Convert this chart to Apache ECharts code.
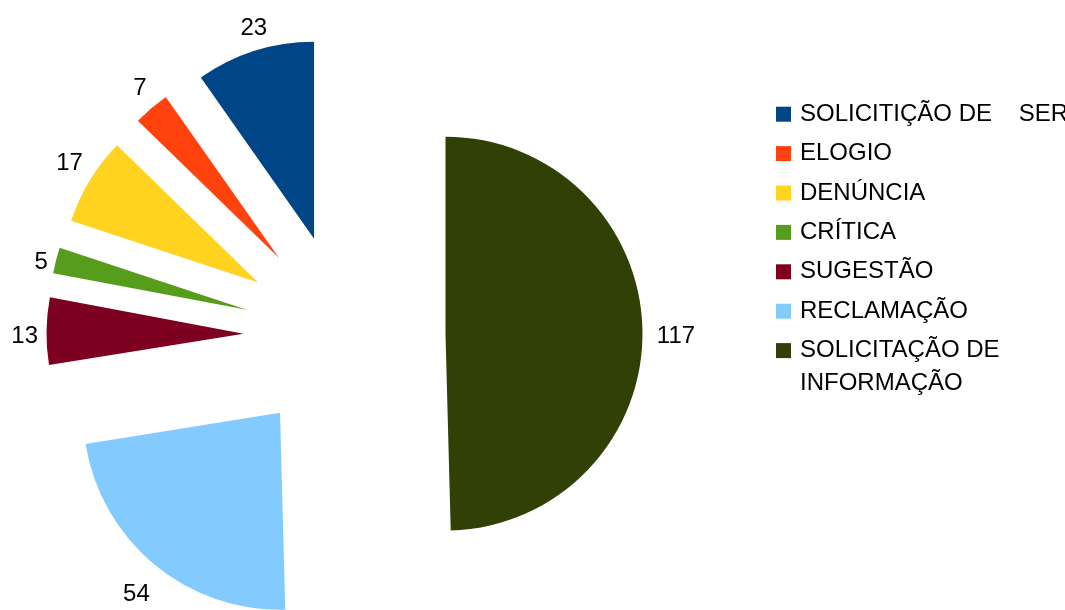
<html>
	<head>
		<meta charset="utf-8">
		<script src="https://cdn.jsdelivr.net/npm/echarts@6/dist/echarts.min.js"></script>
	</head>
<body style="margin:0;background:#fff;">
	<div id="main" style="width: 1065px;height:610px;"></div>
	<script type="text/javascript">
		// dados
		var categorias = ['SOLICITIÇÃO DE    SERVIÇO', 'ELOGIO', 'DENÚNCIA', 'CRÍTICA', 'SUGESTÃO', 'RECLAMAÇÃO', 'SOLICITAÇÃO DE INFORMAÇÃO'];
		var valores = [23, 7, 17, 5, 13, 54, 117];
		var cores = ['#004586', '#ff420e', '#ffd320', '#579d1c', '#7e0021', '#83caff', '#314004'];

		var myChart = echarts.init(document.getElementById('main'));

		var fonte = 'Liberation Sans, Arial, sans-serif';
		var raio = 197;       // raio das fatias
		var anelMeio = 225;   // raio medio do anel invisivel dos rotulos
		var ancora = 205;     // distancia da ponta da fatia ate o ponto de ancora do rotulo
		var ajusteX = 2.5;    // correcoes do texto
		var ajusteY = 5;

		var total = valores.reduce(function (a, b) { return a + b; }, 0);

		// alinhamento do rotulo em torno da ancora, por faixa de angulo (como no LibreOffice)
		function alinhamento(graus) {
			if (graus === 0) return [0, 0];
			if (graus <= 22.5) return [1, 0];
			if (graus < 67.5) return [1, -1];
			if (graus < 112.5) return [0, -1];
			if (graus <= 157.5) return [-1, -1];
			if (graus <= 202.5) return [-1, 0];
			if (graus < 247.5) return [-1, 1];
			if (graus < 292.5) return [0, 1];
			if (graus < 337.5) return [1, 1];
			return [1, 0];
		}

		var acum = 0;
		var paddings = valores.map(function (v) {
			var graus = (90 + 360 * (acum + v / 2) / total) % 360;
			acum += v;
			var meio = graus * Math.PI / 180;
			var c = Math.cos(meio), s = Math.sin(meio);
			var w = String(v).length * 13.34, h = 33;
			var al = alinhamento(graus);
			var d = ancora - anelMeio;
			var ox = d * c + al[0] * w / 2 + ajusteX;
			var oy = -d * s + al[1] * h / 2 + ajusteY;
			return [Math.max(0, 2 * oy), Math.max(0, -2 * ox), Math.max(0, -2 * oy), Math.max(0, 2 * ox)];
		});

		var option = {
			animation: false,
			backgroundColor: '#fff',
			color: cores,
			legend: {
				orient: 'vertical',
				left: 776,
				top: 99.2,
				padding: 0,
				itemWidth: 15,
				itemHeight: 15,
				itemGap: 9.4,
				icon: 'rect',
				selectedMode: false,
				textStyle: { fontSize: 24, color: '#000', fontFamily: fonte, lineHeight: 30, padding: [0, 0, 0, 4] },
				formatter: function (name) {
					// a segunda linha da ultima legenda vai no graphic abaixo
					return name === 'SOLICITAÇÃO DE INFORMAÇÃO' ? 'SOLICITAÇÃO DE' : name;
				},
				data: categorias
			},
			graphic: [
				{
					type: 'text',
					x: 800,
					y: 383.5,
					silent: true,
					style: { text: 'INFORMAÇÃO', fontSize: 24, fontFamily: fonte, fill: '#000', verticalAlign: 'middle' }
				}
			],
			series: [
				{
					name: 'fatias',
					type: 'pie',
					center: [344.5, 335],
					radius: raio,
					startAngle: 90,
					clockwise: false,
					selectedMode: 'multiple',
					selectedOffset: 101,
					avoidLabelOverlap: false,
					silent: true,
					label: { show: false },
					labelLine: { show: false },
					emphasis: { disabled: true },
					select: { itemStyle: { borderWidth: 0 } },
					data: categorias.map(function (nome, i) {
						return { name: nome, value: valores[i], selected: true, itemStyle: { color: cores[i] } };
					})
				},
				{
					// anel invisivel so para posicionar os rotulos fora das fatias
					name: 'rotulos',
					type: 'pie',
					center: [344.5, 335],
					radius: [raio, 2 * anelMeio - raio],
					startAngle: 90,
					clockwise: false,
					selectedMode: 'multiple',
					selectedOffset: 101,
					avoidLabelOverlap: false,
					silent: true,
					legendHoverLink: false,
					itemStyle: { color: 'rgba(0,0,0,0)' },
					label: {
						show: true,
						position: 'inside',
						formatter: '{v|{c}}',
						fontSize: 24,
						color: '#000',
						fontFamily: fonte
					},
					labelLine: { show: false },
					emphasis: { disabled: true },
					select: { itemStyle: { color: 'rgba(0,0,0,0)', borderWidth: 0 } },
					data: categorias.map(function (nome, i) {
						return {
							name: nome, value: valores[i], selected: true,
							label: { rich: { v: { fontSize: 24, color: '#000', fontFamily: fonte, padding: paddings[i] } } }
						};
					})
				}
			]
		};

		myChart.setOption(option);
	</script>
</body>
</html>
